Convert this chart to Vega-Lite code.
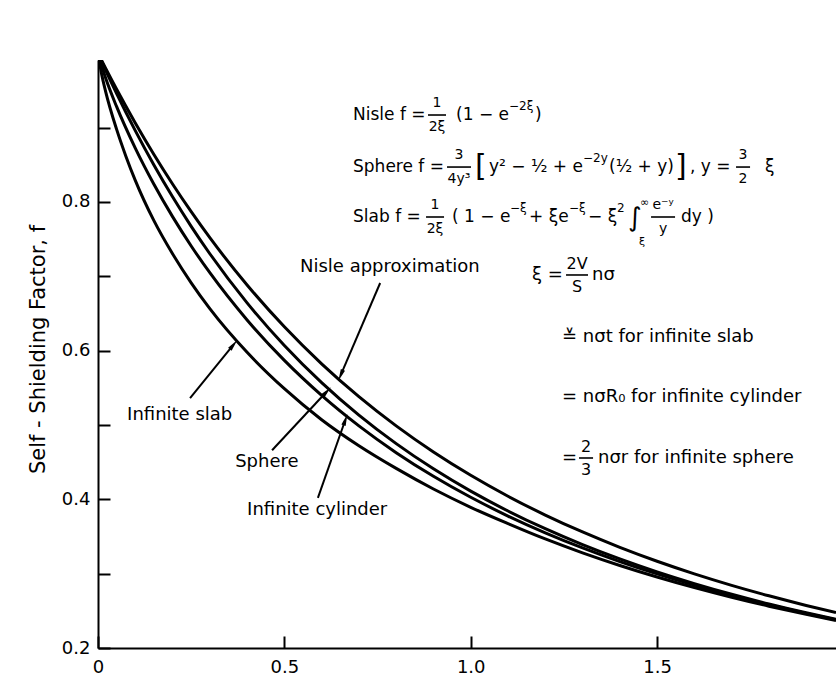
{
  "$schema": "https://vega.github.io/schema/vega-lite/v6.json",
  "width": 738,
  "height": 588,
  "autosize": {"type": "none"},
  "padding": {"left": 98, "top": 60, "right": 0, "bottom": 29},
  "background": "white",
  "config": {"view": {"stroke": null}, "font": "DejaVu Sans", "text": {"font": "DejaVu Sans", "color": "black"}},
  "datasets": {
    "curves": [
      {"curve": "Nisle", "x": 0, "y": 1}, {"curve": "Nisle", "x": 0.02, "y": 0.98026}, {"curve": "Nisle", "x": 0.05, "y": 0.95163}, {"curve": "Nisle", "x": 0.1, "y": 0.90635}, {"curve": "Nisle", "x": 0.15, "y": 0.86394}, {"curve": "Nisle", "x": 0.2, "y": 0.8242}, {"curve": "Nisle", "x": 0.25, "y": 0.78694}, {"curve": "Nisle", "x": 0.3, "y": 0.75198}, {"curve": "Nisle", "x": 0.4, "y": 0.68834}, {"curve": "Nisle", "x": 0.5, "y": 0.63212}, {"curve": "Nisle", "x": 0.6, "y": 0.58234}, {"curve": "Nisle", "x": 0.7, "y": 0.53814}, {"curve": "Nisle", "x": 0.8, "y": 0.49881}, {"curve": "Nisle", "x": 0.9, "y": 0.46372}, {"curve": "Nisle", "x": 1.0, "y": 0.43233}, {"curve": "Nisle", "x": 1.1, "y": 0.40418}, {"curve": "Nisle", "x": 1.2, "y": 0.37887}, {"curve": "Nisle", "x": 1.3, "y": 0.35605}, {"curve": "Nisle", "x": 1.4, "y": 0.33542}, {"curve": "Nisle", "x": 1.5, "y": 0.31674}, {"curve": "Nisle", "x": 1.6, "y": 0.29976}, {"curve": "Nisle", "x": 1.7, "y": 0.2843}, {"curve": "Nisle", "x": 1.8, "y": 0.27019}, {"curve": "Nisle", "x": 1.9, "y": 0.25727}, {"curve": "Nisle", "x": 1.98, "y": 0.24771},
      {"curve": "Sphere", "x": 0, "y": 1}, {"curve": "Sphere", "x": 0.02, "y": 0.97786}, {"curve": "Sphere", "x": 0.05, "y": 0.94593}, {"curve": "Sphere", "x": 0.1, "y": 0.896}, {"curve": "Sphere", "x": 0.15, "y": 0.84974}, {"curve": "Sphere", "x": 0.2, "y": 0.80693}, {"curve": "Sphere", "x": 0.25, "y": 0.76723}, {"curve": "Sphere", "x": 0.3, "y": 0.73035}, {"curve": "Sphere", "x": 0.4, "y": 0.66428}, {"curve": "Sphere", "x": 0.5, "y": 0.60696}, {"curve": "Sphere", "x": 0.6, "y": 0.55702}, {"curve": "Sphere", "x": 0.7, "y": 0.51332}, {"curve": "Sphere", "x": 0.8, "y": 0.47492}, {"curve": "Sphere", "x": 0.9, "y": 0.44104}, {"curve": "Sphere", "x": 1.0, "y": 0.41102}, {"curve": "Sphere", "x": 1.1, "y": 0.3843}, {"curve": "Sphere", "x": 1.2, "y": 0.36045}, {"curve": "Sphere", "x": 1.3, "y": 0.33906}, {"curve": "Sphere", "x": 1.4, "y": 0.3198}, {"curve": "Sphere", "x": 1.5, "y": 0.30242}, {"curve": "Sphere", "x": 1.6, "y": 0.28667}, {"curve": "Sphere", "x": 1.7, "y": 0.27234}, {"curve": "Sphere", "x": 1.8, "y": 0.25928}, {"curve": "Sphere", "x": 1.9, "y": 0.24732}, {"curve": "Sphere", "x": 1.98, "y": 0.23847},
      {"curve": "Cylinder", "x": 0, "y": 1}, {"curve": "Cylinder", "x": 0.02, "y": 0.96735}, {"curve": "Cylinder", "x": 0.05, "y": 0.92821}, {"curve": "Cylinder", "x": 0.1, "y": 0.87244}, {"curve": "Cylinder", "x": 0.15, "y": 0.82378}, {"curve": "Cylinder", "x": 0.2, "y": 0.78027}, {"curve": "Cylinder", "x": 0.25, "y": 0.74084}, {"curve": "Cylinder", "x": 0.3, "y": 0.70482}, {"curve": "Cylinder", "x": 0.4, "y": 0.64128}, {"curve": "Cylinder", "x": 0.5, "y": 0.58689}, {"curve": "Cylinder", "x": 0.6, "y": 0.53984}, {"curve": "Cylinder", "x": 0.7, "y": 0.49882}, {"curve": "Cylinder", "x": 0.8, "y": 0.46279}, {"curve": "Cylinder", "x": 0.9, "y": 0.43098}, {"curve": "Cylinder", "x": 1.0, "y": 0.40274}, {"curve": "Cylinder", "x": 1.1, "y": 0.37753}, {"curve": "Cylinder", "x": 1.2, "y": 0.35496}, {"curve": "Cylinder", "x": 1.3, "y": 0.33464}, {"curve": "Cylinder", "x": 1.4, "y": 0.31629}, {"curve": "Cylinder", "x": 1.5, "y": 0.29966}, {"curve": "Cylinder", "x": 1.6, "y": 0.28453}, {"curve": "Cylinder", "x": 1.7, "y": 0.27072}, {"curve": "Cylinder", "x": 1.8, "y": 0.25808}, {"curve": "Cylinder", "x": 1.9, "y": 0.24647}, {"curve": "Cylinder", "x": 1.98, "y": 0.23786},
      {"curve": "Slab", "x": 0, "y": 1}, {"curve": "Slab", "x": 0.01, "y": 0.97132}, {"curve": "Slab", "x": 0.02, "y": 0.94958}, {"curve": "Slab", "x": 0.05, "y": 0.89762}, {"curve": "Slab", "x": 0.075, "y": 0.86133}, {"curve": "Slab", "x": 0.1, "y": 0.82909}, {"curve": "Slab", "x": 0.15, "y": 0.77483}, {"curve": "Slab", "x": 0.2, "y": 0.73027}, {"curve": "Slab", "x": 0.25, "y": 0.69126}, {"curve": "Slab", "x": 0.3, "y": 0.65653}, {"curve": "Slab", "x": 0.4, "y": 0.59778}, {"curve": "Slab", "x": 0.5, "y": 0.54879}, {"curve": "Slab", "x": 0.6, "y": 0.50708}, {"curve": "Slab", "x": 0.7, "y": 0.47206}, {"curve": "Slab", "x": 0.8, "y": 0.44159}, {"curve": "Slab", "x": 0.9, "y": 0.41389}, {"curve": "Slab", "x": 1.0, "y": 0.38931}, {"curve": "Slab", "x": 1.1, "y": 0.36738}, {"curve": "Slab", "x": 1.2, "y": 0.34672}, {"curve": "Slab", "x": 1.3, "y": 0.32802}, {"curve": "Slab", "x": 1.4, "y": 0.31102}, {"curve": "Slab", "x": 1.5, "y": 0.29551}, {"curve": "Slab", "x": 1.6, "y": 0.28131}, {"curve": "Slab", "x": 1.7, "y": 0.26828}, {"curve": "Slab", "x": 1.8, "y": 0.25627}, {"curve": "Slab", "x": 1.9, "y": 0.24519}, {"curve": "Slab", "x": 1.98, "y": 0.23694}
    ],
    "arrows": [
      {"a": "nisle", "x": 0.757, "y": 0.691, "x2": 0.652, "y2": 0.568},
      {"a": "slab", "x": 0.247, "y": 0.536, "x2": 0.362, "y2": 0.607},
      {"a": "sphere", "x": 0.467, "y": 0.466, "x2": 0.612, "y2": 0.544},
      {"a": "cyl", "x": 0.590, "y": 0.402, "x2": 0.663, "y2": 0.506}
    ],
    "labels18": [
      {"t": "Nisle approximation", "x": 0.542, "y": 0.7125},
      {"t": "Infinite slab", "x": 0.078, "y": 0.5134},
      {"t": "Sphere", "x": 0.368, "y": 0.4502},
      {"t": "Infinite cylinder", "x": 0.4, "y": 0.3856},
      {"t": "ξ =", "x": 1.1645, "y": 0.7018},
      {"t": "nσ", "x": 1.3255, "y": 0.7018},
      {"t": "≚ nσt  for infinite slab", "x": 1.245, "y": 0.6184},
      {"t": "= nσR₀  for infinite cylinder", "x": 1.245, "y": 0.5377},
      {"t": "=", "x": 1.245, "y": 0.4556},
      {"t": "nσr  for infinite sphere", "x": 1.3416, "y": 0.4556}
    ],
    "frac16": [
      {"t": "2V", "x": 1.2852, "y": 0.7166},
      {"t": "S", "x": 1.2852, "y": 0.6856},
      {"t": "2", "x": 1.3094, "y": 0.4704},
      {"t": "3", "x": 1.3094, "y": 0.4394}
    ],
    "bars": [
      {"x": 1.2557, "x2": 1.3147, "y": 0.7018},
      {"x": 1.2906, "x2": 1.3282, "y": 0.4556},
      {"x": 0.8854, "x2": 0.9337, "y": 0.917},
      {"x": 0.9364, "x2": 1.0008, "y": 0.847},
      {"x": 1.7118, "x2": 1.7494, "y": 0.847},
      {"x": 0.8801, "x2": 0.9284, "y": 0.7798},
      {"x": 1.4838, "x2": 1.5482, "y": 0.7798}
    ],
    "form17": [
      {"t": "Nisle f =", "x": 0.6842, "y": 0.917},
      {"t": "(1 − e", "x": 0.9606, "y": 0.917},
      {"t": ")", "x": 1.1725, "y": 0.917},
      {"t": "Sphere f =", "x": 0.6842, "y": 0.847},
      {"t": "y² − ½ + e", "x": 1.0491, "y": 0.847},
      {"t": "(½ + y)", "x": 1.3711, "y": 0.847},
      {"t": ", y = ", "x": 1.5884, "y": 0.847},
      {"t": "ξ", "x": 1.7896, "y": 0.847},
      {"t": "Slab f =", "x": 0.6842, "y": 0.7798},
      {"t": "( 1 − e", "x": 0.9498, "y": 0.7798},
      {"t": "+ ξe", "x": 1.1564, "y": 0.7798},
      {"t": "− ξ", "x": 1.3147, "y": 0.7798},
      {"t": "dy )", "x": 1.5643, "y": 0.7798}
    ],
    "frac14": [
      {"t": "1", "x": 0.9096, "y": 0.9331},
      {"t": "2ξ", "x": 0.9096, "y": 0.9009},
      {"t": "3", "x": 0.9686, "y": 0.8632},
      {"t": "4y³", "x": 0.9686, "y": 0.8309},
      {"t": "3", "x": 1.7306, "y": 0.8632},
      {"t": "2", "x": 1.7306, "y": 0.8309},
      {"t": "1", "x": 0.9042, "y": 0.7959},
      {"t": "2ξ", "x": 0.9042, "y": 0.7636},
      {"t": "e⁻ʸ", "x": 1.516, "y": 0.7959},
      {"t": "y", "x": 1.516, "y": 0.7636}
    ],
    "sup12": [
      {"t": "−2ξ", "x": 1.1028, "y": 0.9291},
      {"t": "−2y", "x": 1.3013, "y": 0.8592},
      {"t": "−ξ", "x": 1.1054, "y": 0.7919},
      {"t": "−ξ", "x": 1.2637, "y": 0.7919},
      {"t": "2", "x": 1.3925, "y": 0.7919}
    ],
    "big30": [
      {"t": "[", "x": 1.0115, "y": 0.847},
      {"t": "]", "x": 1.5482, "y": 0.847}
    ],
    "int26": [
      {"t": "∫", "x": 1.422, "y": 0.7784}
    ],
    "tiny11": [
      {"t": "∞", "x": 1.4542, "y": 0.7986},
      {"t": "ξ", "x": 1.4515, "y": 0.7465}
    ]
  },
  "layer": [
    {
      "data": {"name": "curves"},
      "mark": {"type": "line", "color": "black", "strokeWidth": 3, "interpolate": "monotone", "clip": true},
      "encoding": {
        "x": {"field": "x", "type": "quantitative", "scale": {"domain": [0, 1.98], "nice": false, "zero": false},
          "axis": {"title": null, "values": [0, 0.5, 1, 1.5], "labelExpr": "datum.value == 0 ? '0' : format(datum.value, '.1f')", "tickSize": -12, "tickWidth": 2, "tickColor": "black", "domainColor": "black", "domainWidth": 2, "labelPadding": 22, "labelFontSize": 18, "labelColor": "black", "labelFont": "DejaVu Sans", "labelFlush": false, "labelOverlap": false, "grid": false}},
        "y": {"field": "y", "type": "quantitative", "scale": {"domain": [0.2, 0.991], "nice": false, "zero": false},
          "axis": {"title": "Self - Shielding Factor, f", "values": [0.2, 0.3, 0.4, 0.5, 0.6, 0.7, 0.8, 0.9], "labelExpr": "(round(datum.value * 10) % 2 == 0) ? format(datum.value, '.1f') : ''", "tickSize": -12, "tickWidth": 2, "tickColor": "black", "domainColor": "black", "domainWidth": 2, "labelPadding": 20, "labelFontSize": 18, "labelColor": "black", "labelFont": "DejaVu Sans", "labelFlush": false, "labelOverlap": false, "grid": false, "titleFont": "DejaVu Sans", "titleFontSize": 21, "titleFontWeight": "normal", "titleColor": "black", "titleX": -60, "titleY": 289, "titleAngle": -90, "titleAlign": "center", "titleBaseline": "middle"}},
        "detail": {"field": "curve"}
      }
    },
    {
      "data": {"name": "arrows"},
      "mark": {"type": "rule", "color": "black", "strokeWidth": 2},
      "encoding": {"x": {"field": "x", "type": "quantitative"}, "y": {"field": "y", "type": "quantitative"}, "x2": {"field": "x2"}, "y2": {"field": "y2"}}
    },
    {
      "data": {"name": "arrows"},
      "transform": [{"filter": "datum.a == 'nisle'"}],
      "mark": {"type": "point", "shape": "M0,-1L0.32,0.7L-0.32,0.7Z", "filled": true, "color": "black", "opacity": 1, "size": 196, "angle": 203, "strokeWidth": 0},
      "encoding": {"x": {"field": "x2", "type": "quantitative"}, "y": {"field": "y2", "type": "quantitative"}}
    },
    {
      "data": {"name": "arrows"},
      "transform": [{"filter": "datum.a == 'slab'"}],
      "mark": {"type": "point", "shape": "M0,-1L0.32,0.7L-0.32,0.7Z", "filled": true, "color": "black", "opacity": 1, "size": 196, "angle": 39, "strokeWidth": 0},
      "encoding": {"x": {"field": "x2", "type": "quantitative"}, "y": {"field": "y2", "type": "quantitative"}}
    },
    {
      "data": {"name": "arrows"},
      "transform": [{"filter": "datum.a == 'sphere'"}],
      "mark": {"type": "point", "shape": "M0,-1L0.32,0.7L-0.32,0.7Z", "filled": true, "color": "black", "opacity": 1, "size": 196, "angle": 43, "strokeWidth": 0},
      "encoding": {"x": {"field": "x2", "type": "quantitative"}, "y": {"field": "y2", "type": "quantitative"}}
    },
    {
      "data": {"name": "arrows"},
      "transform": [{"filter": "datum.a == 'cyl'"}],
      "mark": {"type": "point", "shape": "M0,-1L0.32,0.7L-0.32,0.7Z", "filled": true, "color": "black", "opacity": 1, "size": 196, "angle": 19, "strokeWidth": 0},
      "encoding": {"x": {"field": "x2", "type": "quantitative"}, "y": {"field": "y2", "type": "quantitative"}}
    },
    {
      "data": {"name": "bars"},
      "mark": {"type": "rule", "color": "black", "strokeWidth": 1.6},
      "encoding": {"x": {"field": "x", "type": "quantitative"}, "x2": {"field": "x2"}, "y": {"field": "y", "type": "quantitative"}}
    },
    {
      "data": {"name": "labels18"},
      "mark": {"type": "text", "align": "left", "baseline": "middle", "fontSize": 18, "font": "DejaVu Sans", "color": "black"},
      "encoding": {"x": {"field": "x", "type": "quantitative"}, "y": {"field": "y", "type": "quantitative"}, "text": {"field": "t"}}
    },
    {
      "data": {"name": "frac16"},
      "mark": {"type": "text", "align": "center", "baseline": "middle", "fontSize": 16, "font": "DejaVu Sans", "color": "black"},
      "encoding": {"x": {"field": "x", "type": "quantitative"}, "y": {"field": "y", "type": "quantitative"}, "text": {"field": "t"}}
    },
    {
      "data": {"name": "form17"},
      "mark": {"type": "text", "align": "left", "baseline": "middle", "fontSize": 17, "font": "DejaVu Sans", "color": "black"},
      "encoding": {"x": {"field": "x", "type": "quantitative"}, "y": {"field": "y", "type": "quantitative"}, "text": {"field": "t"}}
    },
    {
      "data": {"name": "frac14"},
      "mark": {"type": "text", "align": "center", "baseline": "middle", "fontSize": 14, "font": "DejaVu Sans", "color": "black"},
      "encoding": {"x": {"field": "x", "type": "quantitative"}, "y": {"field": "y", "type": "quantitative"}, "text": {"field": "t"}}
    },
    {
      "data": {"name": "sup12"},
      "mark": {"type": "text", "align": "left", "baseline": "middle", "fontSize": 12, "font": "DejaVu Sans", "color": "black"},
      "encoding": {"x": {"field": "x", "type": "quantitative"}, "y": {"field": "y", "type": "quantitative"}, "text": {"field": "t"}}
    },
    {
      "data": {"name": "big30"},
      "mark": {"type": "text", "align": "left", "baseline": "middle", "fontSize": 30, "font": "DejaVu Sans", "color": "black"},
      "encoding": {"x": {"field": "x", "type": "quantitative"}, "y": {"field": "y", "type": "quantitative"}, "text": {"field": "t"}}
    },
    {
      "data": {"name": "int26"},
      "mark": {"type": "text", "align": "left", "baseline": "middle", "fontSize": 26, "font": "DejaVu Sans", "color": "black"},
      "encoding": {"x": {"field": "x", "type": "quantitative"}, "y": {"field": "y", "type": "quantitative"}, "text": {"field": "t"}}
    },
    {
      "data": {"name": "tiny11"},
      "mark": {"type": "text", "align": "left", "baseline": "middle", "fontSize": 11, "font": "DejaVu Sans", "color": "black"},
      "encoding": {"x": {"field": "x", "type": "quantitative"}, "y": {"field": "y", "type": "quantitative"}, "text": {"field": "t"}}
    }
  ]
}
